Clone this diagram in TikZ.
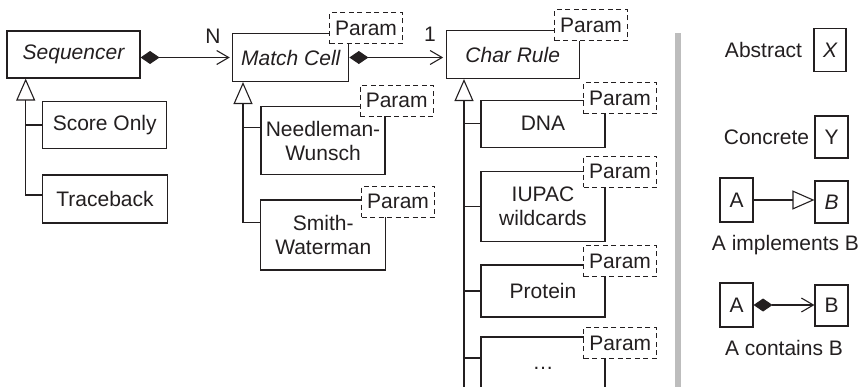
\documentclass[tikz,border=0pt]{standalone}
\usepackage{fontspec}
\setmainfont{Liberation Sans}
\usepackage{tikz}
\usetikzlibrary{arrows.meta, positioning, calc}
\usepackage{xcolor}
\definecolor{ink}{HTML}{231F20}
\definecolor{barcol}{HTML}{BDBDBD}

\begin{document}
\begin{tikzpicture}[
    x=1pt, y=-1pt,
    every node/.style={text=ink, font=\fontsize{21}{24}\selectfont},
    box/.style={draw=ink, line width=1.1pt, fill=white, inner sep=0pt, align=center},
    abs/.style={box, font=\fontsize{21}{24}\selectfont\itshape},
    param/.style={draw=ink, line width=1pt, dash pattern=on 5pt off 3.5pt, fill=white, inner sep=0pt,
                  minimum width=73pt, minimum height=31pt},
    gen/.style={draw=ink, line width=1.1pt, -{Triangle[open, length=22pt, width=19pt]}},
    has/.style={draw=ink, line width=1.1pt, {Diamond[length=19pt, width=13pt]}-{Straight Barb[length=12pt, width=14pt]}, shorten >=2.5pt},
    wire/.style={draw=ink, line width=1.1pt}
]
\useasboundingbox (0,0) rectangle (862,386);
\clip (0,0) rectangle (862,386);
% Sequencer
\node[abs, minimum width=133pt, minimum height=47pt] (seq) at (73.5,54.5) {Sequencer};
\node[box, minimum width=124pt, minimum height=47pt] (score) at (104.7,125) {Score Only};
\node[box, minimum width=125pt, minimum height=48pt] (trace) at (105,199) {Traceback};
% Match cell
\node[abs, minimum width=116pt, minimum height=48pt] (mc) at (290.8,57.5) {Match Cell};
\node[box, minimum width=124pt, minimum height=68pt] (nw) at (323,140.8) {Needleman-\\Wunsch};
\node[box, minimum width=125pt, minimum height=70pt] (sw) at (323.3,235) {Smith-\\Waterman};
% Char rule
\node[abs, minimum width=133pt, minimum height=48pt] (cr) at (512.7,54.5) {Char Rule};
\node[box, minimum width=124pt, minimum height=47pt] (dna) at (543,123.7) {DNA};
\node[box, minimum width=124pt, minimum height=70pt] (iupac) at (543,206.7) {IUPAC\\wildcards};
\node[box, minimum width=124pt, minimum height=52pt] (prot) at (543,291) {Protein};
\node[box, minimum width=124pt, minimum height=62pt] (more) at (543,368) {…};
% Params
\node[param] (pmc) at (366,28.3) {Param};
\node[param] (pnw) at (396.7,100.5) {Param};
\node[param] (psw) at (398,201.7) {Param};
\node[param] (pcr) at (591,25) {Param};
\node[param] (pdna) at (620,98.3) {Param};
\node[param] (piupac) at (620,171.7) {Param};
\node[param] (pprot) at (620,261) {Param};
\node[param] (pmore) at (620.3,343) {Param};
% Containment
\draw[has] (seq.east |- mc.west) -- (mc.west);
\draw[has] (mc.east) -- (mc.east -| cr.west);
\node (n) at (213,36) {N};
\node (one) at (430,34) {1};
% Hierarchies
\coordinate (seqbus) at (25.7,0);
\coordinate (trin) at ([yshift=4pt]trace.west);
\draw[gen] (trin) -- (trin -| seqbus) -- (seq.south -| seqbus);
\draw[wire] (score.west) -- (score.west -| seqbus);
\coordinate (mcbus) at (243,0);
\coordinate (nwin) at ([yshift=-21.6pt]nw.north west);
\coordinate (swin) at ([yshift=-23.3pt]sw.north west);
\draw[gen] (swin) -- (swin -| mcbus) -- (mc.south -| mcbus);
\draw[wire] (nwin) -- (nwin -| mcbus);
\coordinate (crbus) at (464,0);
\coordinate (crbot) at (464,392);
\coordinate (morein) at ([yshift=-21.5pt]more.north west);
\draw[gen] (crbot) -- (cr.south -| crbus);
\draw[wire] (dna.west) -- (dna.west -| crbus);
\draw[wire] (iupac.west) -- (iupac.west -| crbus);
\draw[wire] (prot.west) -- (prot.west -| crbus);
\draw[wire] (morein) -- (morein -| crbus);
% Legend
\fill[barcol] (674.5,33) rectangle (680.5,392);
\node (abstxt) at (763.5,50) {Abstract};
\node[abs, minimum width=32pt, minimum height=43pt] (absx) at (830,50) {X};
\node (contxt) at (766.5,137) {Concrete};
\node[box, minimum width=33pt, minimum height=42pt] (cony) at (831.5,137) {Y};
\node[box, minimum width=33pt, minimum height=44pt] (ia) at (736.5,200) {A};
\node[abs, minimum width=33pt, minimum height=42pt] (ib) at (831.5,202) {B};
\draw[gen] (ia.east) -- (ia.east -| ib.west);
\node (imptxt) at (785.5,245) {A implements B};
\node[box, minimum width=33pt, minimum height=44pt] (ca) at (736.5,305) {A};
\node[box, minimum width=33pt, minimum height=41pt] (cb) at (831.5,305.5) {B};
\draw[has, shorten >=0pt] (ca.east) -- (ca.east -| cb.west);
\node (hastxt) at (784,348) {A contains B};
\end{tikzpicture}
\end{document}
